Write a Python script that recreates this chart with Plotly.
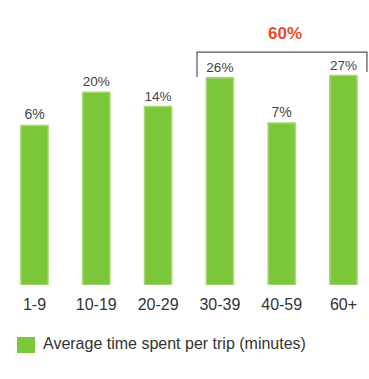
import plotly.graph_objects as go

# Share of trips by time spent per trip (minutes)
categories = ["1-9", "10-19", "20-29", "30-39", "40-59", "60+"]
shares = [6, 20, 14, 26, 7, 27]
series_name = "Average time spent per trip (minutes)"

# axis floor sits below zero so the bars share a tall common stem
floor = -61
x = list(range(len(categories)))
font_family = "Liberation Sans, Arial, sans-serif"
bar_green = "#7cc63a"

fig = go.Figure()
fig.add_trace(go.Bar(
    x=x,
    y=[v - floor for v in shares],
    base=floor,
    width=0.44,
    marker=dict(color=bar_green, line=dict(width=1.5, color="#a6d873")),
    text=[f"{v}%" for v in shares],
    textposition="outside",
    cliponaxis=False,
    textfont=dict(family=font_family, size=14, color="#444444"),
    name=series_name,
    showlegend=False,
))

# bracket over the three longest-duration groups
long_total = sum(shares[3:])
fig.add_shape(type="path",
              path="M 2.63,26.4 L 2.63,36.8 L 5.38,36.8 L 5.38,28.5",
              line=dict(color="#555555", width=1.2), xref="x", yref="y")
fig.add_annotation(x=4.05, y=44.5, xref="x", yref="y", text=f"<b>{long_total}%</b>",
                   showarrow=False,
                   font=dict(family=font_family, size=17, color="#ee4a2c"))

# legend key drawn below the axis
fig.add_shape(type="rect", xref="paper", yref="paper",
              x0=0.046, x1=0.095, y0=-0.2386, y1=-0.1825,
              fillcolor=bar_green, line=dict(width=0))
fig.add_annotation(x=0.112, y=-0.207, xref="paper", yref="paper", text=series_name,
                   xanchor="left", yanchor="middle", showarrow=False,
                   font=dict(family=font_family, size=16, color="#333333"))

fig.update_layout(
    width=369, height=379,
    margin=dict(l=0, r=0, t=0, b=94),
    paper_bgcolor="white", plot_bgcolor="white",
    showlegend=False,
    xaxis=dict(range=[-0.558, 5.413], tickvals=x, ticktext=categories,
               showgrid=False, zeroline=False, showline=False, ticks="",
               ticklabelstandoff=8,
               tickfont=dict(family=font_family, size=16, color="#333333")),
    yaxis=dict(range=[floor, 58.7], visible=False, showgrid=False, zeroline=False),
)

fig.write_html("out.html")
